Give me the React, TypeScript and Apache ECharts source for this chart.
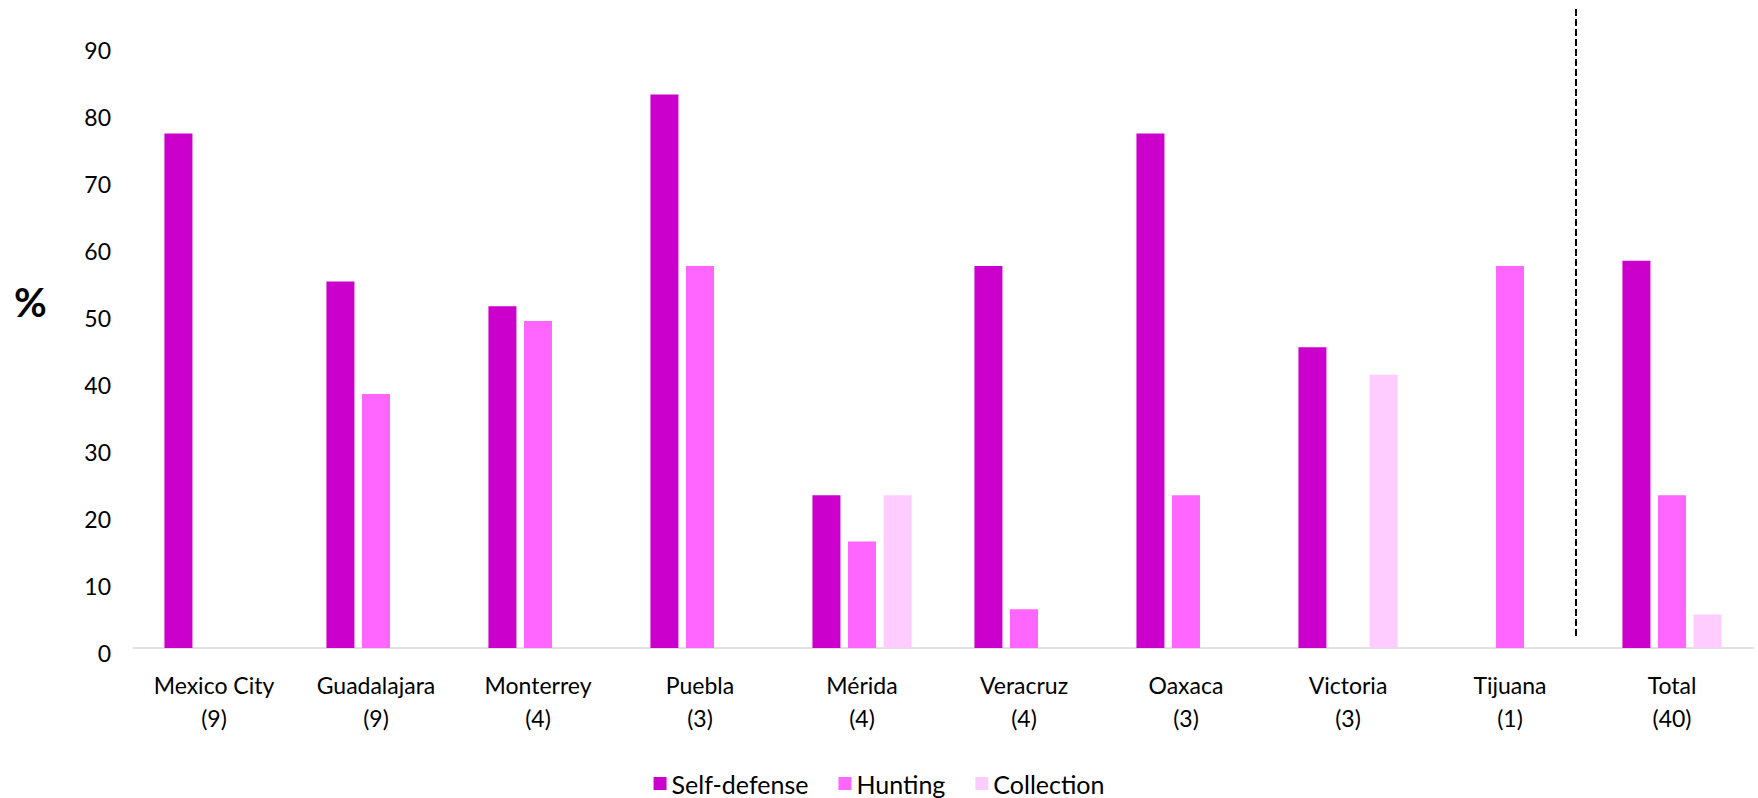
import React, { useEffect, useRef } from "react";
import * as echarts from "echarts";

const categories = [
  "Mexico City\n(9)",
  "Guadalajara\n(9)",
  "Monterrey\n(4)",
  "Puebla\n(3)",
  "Mérida\n(4)",
  "Veracruz\n(4)",
  "Oaxaca\n(3)",
  "Victoria\n(3)",
  "Tijuana\n(1)",
  "Total\n(40)",
];

const selfDefense = [76.8, 54.7, 51, 82.6, 22.8, 57, 76.8, 44.9, 0, 57.8];
const hunting = [0, 37.9, 48.8, 57, 15.9, 5.8, 22.8, 0, 57, 22.8];
const collection = [0, 0, 0, 0, 22.8, 0, 0, 40.8, 0, 5];

const seriesNames = ["Self-defense", "Hunting", "Collection"];
const seriesColors = ["#CC00CC", "#FF66FF", "#FFCCFF"];

const FONT = "Lato, 'Open Sans', sans-serif";

export default function App() {
  const ref = useRef<HTMLDivElement>(null);

  useEffect(() => {
    document.body.style.margin = "0";
    if (!ref.current) return;
    const chart = echarts.init(ref.current, null, { renderer: "svg" });
    const data = [selfDefense, hunting, collection];
    chart.setOption({
      animation: false,
      backgroundColor: "#ffffff",
      textStyle: { fontFamily: FONT },
      grid: { left: 133, right: 5, top: 45, bottom: 150, containLabel: false },
      legend: {
        data: seriesNames,
        top: 766,
        left: "center",
        itemWidth: 13,
        itemHeight: 13,
        itemGap: 30,
        icon: "rect",
        textStyle: { fontFamily: FONT, fontSize: 25, color: "#000" },
      },
      xAxis: {
        type: "category",
        data: categories,
        axisLine: { show: true, lineStyle: { color: "#D9D9D9", width: 1.5 } },
        axisTick: { show: false },
        axisLabel: {
          fontFamily: FONT,
          fontSize: 23,
          color: "#000",
          lineHeight: 33,
          margin: 20,
          interval: 0,
        },
      },
      yAxis: {
        type: "value",
        min: 0,
        max: 90,
        interval: 10,
        splitLine: { show: false },
        axisLine: { show: false },
        axisTick: { show: false },
        axisLabel: {
          fontFamily: FONT,
          fontSize: 23,
          color: "#000",
          margin: 22,
          verticalAlign: "top",
          lineHeight: 10,
        },
      },
      series: seriesNames.map((name, i) => ({
        name,
        type: "bar",
        data: data[i],
        barWidth: 28,
        barGap: "27%",
        itemStyle: { color: seriesColors[i] },
      })),
      graphic: [
        {
          type: "text",
          left: 14,
          top: 282,
          style: {
            text: "%",
            fontFamily: FONT,
            fontSize: 40,
            fontWeight: "bold",
            fill: "#000",
          },
          silent: true,
        },
        {
          type: "line",
          shape: { x1: 1576, y1: 9, x2: 1576, y2: 637 },
          style: { stroke: "#000", lineWidth: 2, lineDash: [7, 3] },
          silent: true,
        },
      ],
    });
    return () => chart.dispose();
  }, []);

  return <div ref={ref} style={{ width: 1758, height: 798 }} />;
}
